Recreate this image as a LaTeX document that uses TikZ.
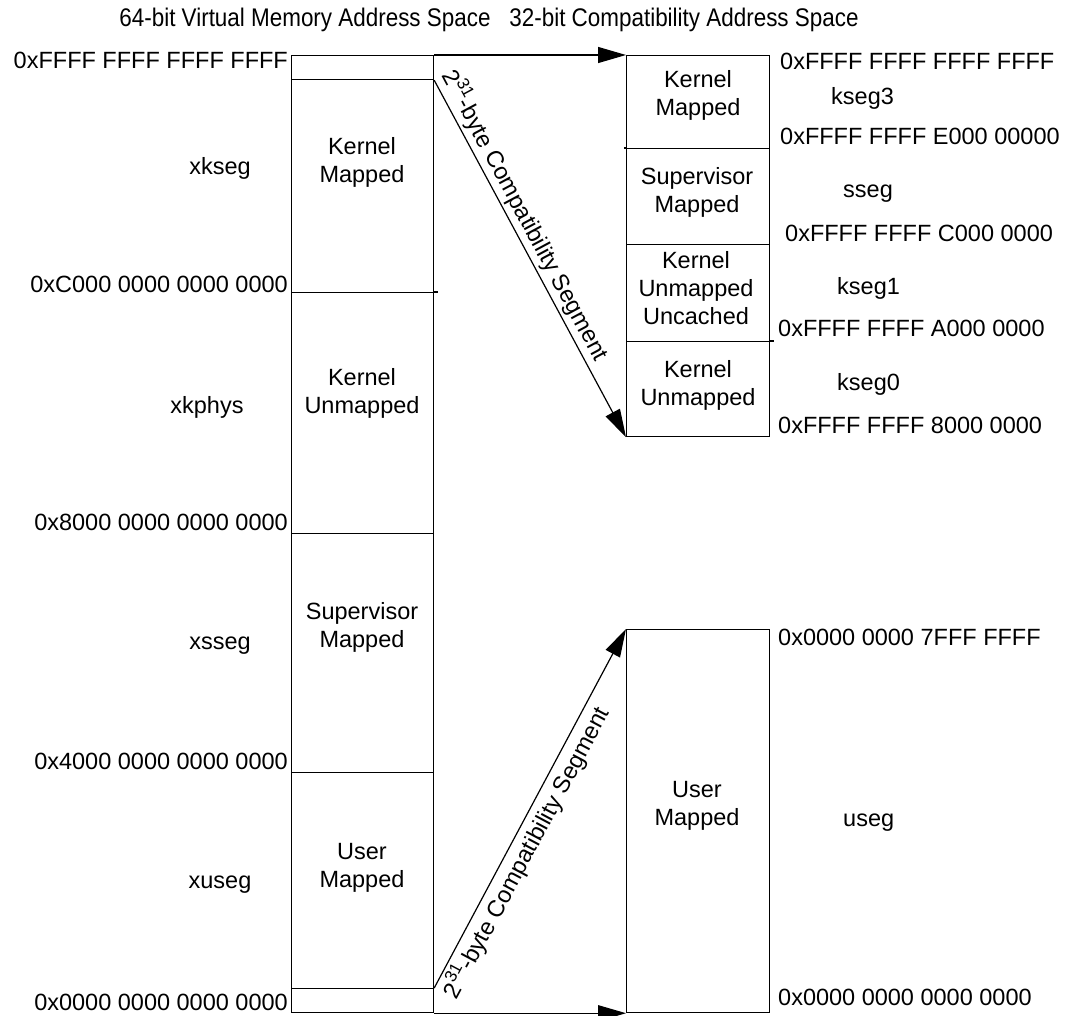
\documentclass[tikz,border=0pt]{standalone}
\usepackage{fontspec}
\setmainfont{Liberation Sans}
\usetikzlibrary{arrows.meta}
\newcommand{\ttltext}[1]{\scalebox{0.88}[1]{\fontsize{25.5}{30}\selectfont #1}}
\newcommand{\suppow}{\raisebox{0.42em}{\fontsize{17}{17}\selectfont 31}}
\begin{document}
\begin{tikzpicture}[x=1pt,y=-1pt,
  seg/.style={draw,line width=1.2pt,inner sep=0pt,anchor=north west,minimum width=#1},
  seg/.default=142pt,
  lbl/.style={inner sep=0pt,font=\fontsize{23.5}{28}\selectfont},
  blbl/.style={lbl,align=center},
  arr/.style={line width=1.2pt,-{Triangle[length=28pt,width=16pt]}},
  ttl/.style={inner sep=0pt}
]
\useasboundingbox (0,0) rectangle (1071,1016);

% titles
\node[ttl] (t1) at (305,20) {\ttltext{64-bit Virtual Memory Address Space}};
\node[ttl] (t2) at (684,20) {\ttltext{32-bit Compatibility Address Space}};

% left column
\node[seg,minimum height=24pt]  (L0) at (291,55)  {};
\node[seg,minimum height=213pt] (L1) at (291,79)  {};
\node[seg,minimum height=241pt] (L2) at (291,292) {};
\node[seg,minimum height=239pt] (L3) at (291,533) {};
\node[seg,minimum height=216pt] (L4) at (291,772) {};
\node[seg,minimum height=24pt]  (L5) at (291,988) {};
\draw[line width=1.2pt] (L2.north east) -- ++(4,0);

% right top column
\node[seg=143pt,minimum height=93pt] (R1) at (626,55)  {};
\node[seg=143pt,minimum height=96pt] (R2) at (626,148) {};
\node[seg=143pt,minimum height=97pt] (R3) at (626,244) {};
\node[seg=143pt,minimum height=95pt] (R4) at (626,341) {};
\draw[line width=1.2pt] (R2.north west) -- ++(-2,0);
\draw[line width=1.2pt] (R4.north east) -- ++(4,0);

% right bottom
\node[seg=143pt,minimum height=383pt] (RB) at (626,629) {};

% arrows
\draw[arr] (L0.north east) -- (R1.north west);
\draw[arr] (L5.south east) -- (L5.south east -| RB.west);
\draw[arr] (L0.south east) -- node[lbl,sloped,above=3pt,pos=0.40] {2\suppow-byte Compatibility Segment} (R4.south west);
\draw[arr] (L5.north east) -- node[lbl,sloped,below=3pt,pos=0.40] {2\suppow-byte Compatibility Segment} (RB.north west);

% left addresses
\node[lbl,anchor=base east] (a1) at (288,69)   {0xFFFF FFFF FFFF FFFF};
\node[lbl,anchor=base east] (a2) at (288,293)  {0xC000 0000 0000 0000};
\node[lbl,anchor=base east] (a3) at (288,530)  {0x8000 0000 0000 0000};
\node[lbl,anchor=base east] (a4) at (288,769)  {0x4000 0000 0000 0000};
\node[lbl,anchor=base east] (a5) at (288,1010) {0x0000 0000 0000 0000};

% left segment names
\node[lbl] (n1) at (220,168) {xkseg};
\node[lbl] (n2) at (207,407) {xkphys};
\node[lbl] (n3) at (220,646) {xsseg};
\node[lbl] (n4) at (220,885) {xuseg};

% left box labels
\node[blbl] (b1) at (362,162) {Kernel\\Mapped};
\node[blbl] (b2) at (362,393) {Kernel\\Unmapped};
\node[blbl] (b3) at (362,627) {Supervisor\\Mapped};
\node[blbl] (b4) at (362,868) {User\\Mapped};

% right box labels
\node[blbl] (c1) at (698,95)  {Kernel\\Mapped};
\node[blbl] (c2) at (697,192) {Supervisor\\Mapped};
\node[blbl] (c3) at (696,288) {Kernel\\Unmapped\\Uncached};
\node[blbl] (c4) at (698,385) {Kernel\\Unmapped};
\node[blbl] (c5) at (697,806) {User\\Mapped};

% right addresses
\node[lbl,anchor=base west] (r1) at (780,70)   {0xFFFF FFFF FFFF FFFF};
\node[lbl,anchor=base west] (r2) at (780,145)  {0xFFFF FFFF E000 00000};
\node[lbl,anchor=base west] (r3) at (785,242)  {0xFFFF FFFF C000 0000};
\node[lbl,anchor=base west] (r4) at (778,337)  {0xFFFF FFFF A000 0000};
\node[lbl,anchor=base west] (r5) at (778,433)  {0xFFFF FFFF 8000 0000};
\node[lbl,anchor=base west] (r6) at (778,645)  {0x0000 0000 7FFF FFFF};
\node[lbl,anchor=base west] (r7) at (778,1005) {0x0000 0000 0000 0000};

% right segment names
\node[lbl,anchor=base west] (k1) at (831,105) {kseg3};
\node[lbl,anchor=base west] (k2) at (843,198) {sseg};
\node[lbl,anchor=base west] (k3) at (837,295) {kseg1};
\node[lbl,anchor=base west] (k4) at (837,390) {kseg0};
\node[lbl,anchor=base west] (k5) at (843,826) {useg};
\end{tikzpicture}
\end{document}
